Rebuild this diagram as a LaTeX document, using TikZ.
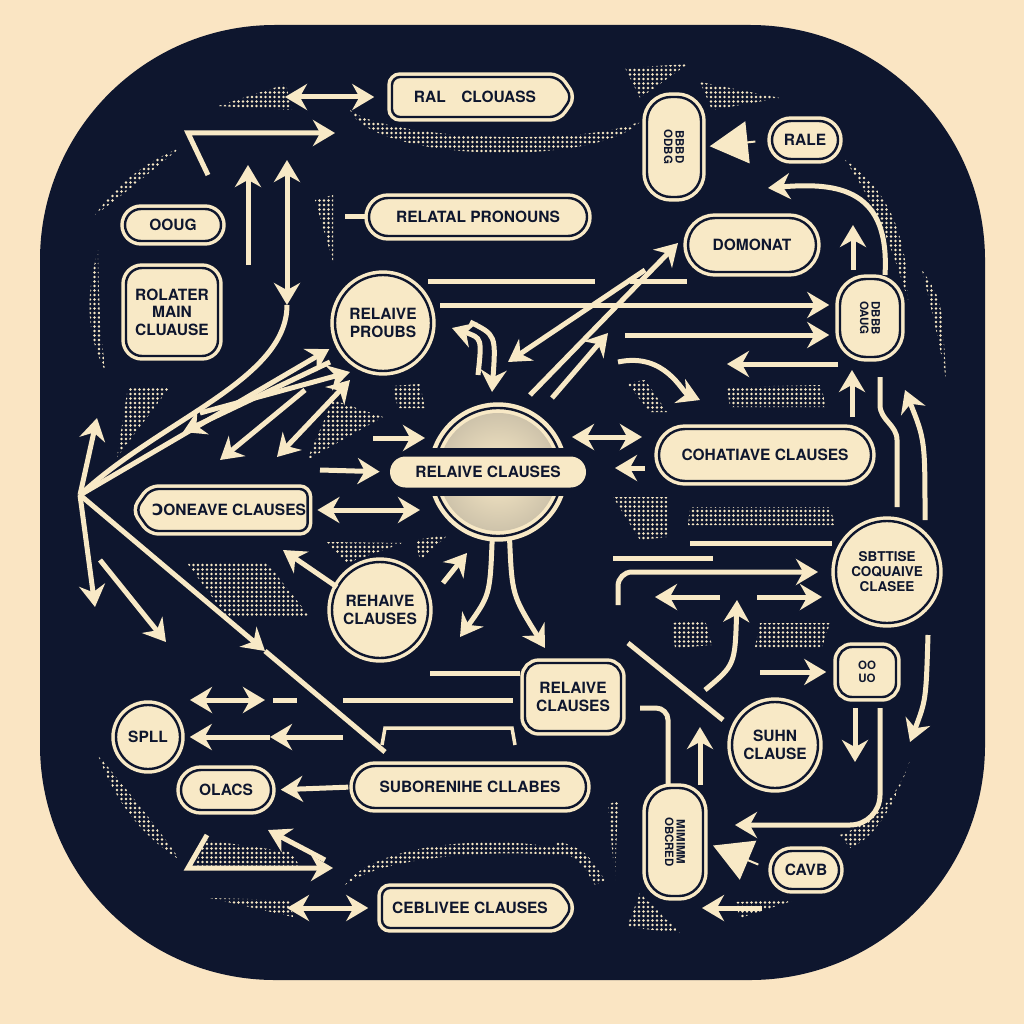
\documentclass[tikz,border=0pt]{standalone}
\usepackage{fontspec}
\setmainfont{TeX Gyre Heros}
\newfontfamily\oddfont{DejaVu Sans}
\usetikzlibrary{arrows.meta,shapes.misc,shapes.symbols,patterns.meta}

\definecolor{paper}{RGB}{250,229,195}
\definecolor{ink}{RGB}{14,22,46}
\definecolor{cream}{RGB}{248,233,198}

\tikzset{every picture/.style={line width=0.75pt}}
\tikzset{
	card/.style={draw=cream, line width=3.5pt, double=ink, double distance=2.4pt, fill=cream, text=ink, font=\bfseries\fontsize{15.5}{17.5}\selectfont, align=center, inner sep=0pt},
	pill/.style={card, rounded rectangle},
	box/.style={card, rectangle, rounded corners=#1},
	box/.default=16pt,
	bubble/.style={card, circle},
	flag/.style={card, signal, signal to=#1, signal pointer angle=110, rounded corners=8pt},
	glyphs/.style={font=\bfseries\fontsize{11.5}{12.5}\selectfont},
	flow/.style={draw=cream, line width=5pt, -{Stealth[length=22pt,width=26pt]}},
	dflow/.style={draw=cream, line width=5pt, {Stealth[length=22pt,width=26pt]}-{Stealth[length=22pt,width=26pt]}},
	bar/.style={draw=cream, line width=5pt},
	pointer/.style={draw=cream, line width=2pt, -{Triangle[length=38pt,width=42pt]}},
	tone/.style={pattern={Dots[distance=4.5pt, radius=1.3pt]}, pattern color=cream}
}

\begin{document}
\begin{tikzpicture}[x=1pt,y=1pt,yscale=-1]
	% Draw paper and board
	\fill[paper] (0,0) rectangle (1024,1024);
	\useasboundingbox (0,0) rectangle (1024,1024);
	\fill[ink, rounded corners=235pt] (40,25) rectangle (985,980);

	% Draw halftone patches
	\fill[tone] (350,110) .. controls (372,162) and (600,168) .. (642,120) .. controls (598,146) and (392,142) .. (350,110) -- cycle;
	\fill[tone] (218,106) -- (286,84) -- (292,110) -- cycle;
	\fill[tone] (625,68) -- (688,64) -- (640,98) -- cycle;
	\fill[tone] (700,82) -- (780,98) -- (712,110) -- cycle;
	\fill[tone] (845,160) .. controls (890,190) and (908,240) .. (908,300) .. controls (893,250) and (876,205) .. (845,160) -- cycle;
	\fill[tone] (922,270) .. controls (942,300) .. (946,378) .. controls (934,320) .. (922,270) -- cycle;
	\fill[tone] (95,215) .. controls (120,180) and (150,160) .. (180,148) .. controls (150,172) and (122,196) .. (95,215) -- cycle;
	\fill[tone] (98,250) .. controls (84,300) and (88,340) .. (106,372) .. controls (99,330) and (99,290) .. (98,250) -- cycle;
	\fill[tone] (315,200) -- (333,195) -- (333,262) -- cycle;
	\fill[tone] (128,387) -- (170,387) -- (117,457) -- cycle;
	\fill[tone] (333,400) -- (383,417) -- (307,460) -- cycle;
	\fill[tone] (392,386) -- (420,384) -- (425,408) -- (398,408) -- cycle;
	\fill[tone] (187,563) -- (267,563) -- (310,617) -- (227,617) -- cycle;
	\fill[tone] (327,542) -- (403,543) -- (347,563) -- cycle;
	\fill[tone] (415,540) -- (448,535) -- (420,560) -- cycle;
	\fill[tone] (98,755) .. controls (115,800) and (140,835) .. (180,860) .. controls (158,828) and (132,796) .. (98,755) -- cycle;
	\fill[tone] (345,885) .. controls (380,835) and (545,832) .. (592,860) .. controls (540,848) and (392,850) .. (345,885) -- cycle;
	\fill[tone] (210,898) -- (290,900) -- (293,917) -- cycle;
	\fill[tone] (205,840) -- (290,852) -- (300,866) -- (195,866) -- cycle;
	\fill[tone] (627,383) -- (645,380) -- (667,412) -- (650,412) -- cycle;
	\fill[tone] (727,387) -- (820,385) -- (827,407) -- (730,407) -- cycle;
	\fill[tone] (613,497) -- (667,497) -- (667,537) -- (640,540) -- cycle;
	\fill[tone] (690,507) -- (830,507) -- (835,525) -- (688,525) -- cycle;
	\fill[tone] (672,623) -- (705,620) -- (712,645) -- (675,648) -- cycle;
	\fill[tone] (760,623) -- (830,623) -- (822,647) -- (755,647) -- cycle;
	\fill[tone] (840,835) .. controls (880,820) and (900,790) .. (910,760) .. controls (895,805) and (875,838) .. (850,848) -- cycle;
	\fill[tone] (555,840) .. controls (585,850) .. (605,880) -- (595,885) .. controls (580,860) .. (555,848) -- cycle;
	\fill[tone] (608,805) -- (618,800) -- (615,880) -- cycle;
	\fill[tone] (627,927) -- (680,933) -- (640,893) -- cycle;
	\fill[tone] (735,902) -- (795,900) -- (740,918) -- cycle;

	% Draw labelled nodes
	\node[flag=east, minimum width=180pt, minimum height=40pt] (ral) at (475,97) {RAL\quad CLOUASS};
	\node[pill, minimum width=218pt, minimum height=38pt] (pron) at (478,217) {RELATAL PRONOUNS};
	\node[pill, minimum width=96pt, minimum height=32pt] (oug) at (173,225) {OOUG};
	\node[box, minimum width=92pt, minimum height=88pt] (mainc) at (172,312) {ROLATER\\MAIN\\CLUAUSE};
	\node[bubble, minimum size=96pt] (proubs) at (383,323) {RELAIVE\\PROUBS};
	\node[box=24pt, minimum width=54pt, minimum height=100pt, glyphs] (hexT) at (674,147) {\rotatebox{-90}{\shortstack{BBBD\\ODBG}}};
	\node[pill, minimum width=66pt, minimum height=38pt] (rale) at (805,140) {RALE};
	\node[pill, minimum width=128pt, minimum height=54pt] (domonat) at (752,245) {DOMONAT};
	\node[box=26pt, minimum width=60pt, minimum height=78pt, glyphs] (vpill) at (870,318) {\rotatebox{-90}{\shortstack{DBBB\\OAUG}}};
	\node[flag=west, minimum width=172pt, minimum height=42pt] (oneave) at (229,510) {{\oddfont\bfseries Ɔ}ONEAVE CLAUSES};
	\node[pill, minimum width=212pt, minimum height=52pt] (cohat) at (765,455) {COHATIAVE CLAUSES};
	\node[bubble, minimum size=102pt, font=\bfseries\fontsize{13.5}{15}\selectfont] (sbttise) at (887,572) {SBTTISE\\COQUAIVE\\CLASEE};
	\node[bubble, minimum size=96pt] (rehaive) at (380,610) {REHAIVE\\CLAUSES};
	\node[box=14pt, minimum width=96pt, minimum height=68pt] (relaive) at (573,697) {RELAIVE\\CLAUSES};
	\node[bubble, minimum size=86pt] (suhn) at (775,745) {SUHN\\CLAUSE};
	\node[box=14pt, minimum width=58pt, minimum height=50pt, glyphs] (eight) at (867,672) {OO\\UO};
	\node[bubble, minimum size=64pt] (spll) at (148,737) {SPLL};
	\node[pill, minimum width=90pt, minimum height=40pt] (olacs) at (226,790) {OLACS};
	\node[pill, minimum width=232pt, minimum height=42pt] (subor) at (470,787) {SUBORENIHE CLLABES};
	\node[box=24pt, minimum width=56pt, minimum height=108pt, glyphs] (hexB) at (675,842) {\rotatebox{-90}{\shortstack{MIMIMM\\OBCRED}}};
	\node[pill, minimum width=66pt, minimum height=38pt] (cavb) at (806,870) {CAVB};
	\node[flag=east, minimum width=190pt, minimum height=40pt] (cebliv) at (470,908) {CEBLIVEE CLAUSES};

	% Draw the central disc
	\node[bubble, line width=4.5pt, minimum size=128pt] (core) at (498,472) {};
	\shade[inner color=cream, outer color=ink!18!cream] (core.center) circle[radius=59];
	\fill[ink] (425,448) rectangle (575,496);
	\node[fill=cream, rounded rectangle, minimum width=196pt, minimum height=31pt, inner sep=0pt, text=ink, font=\bfseries\fontsize{15.5}{17.5}\selectfont] (coreTag) at (488,472) {RELAIVE CLAUSES};

	% Free ends of connectors
	\coordinate (hub) at (80,495);
	\coordinate (hubN) at (97,418);
	\coordinate (hubS) at (95,607);
	\coordinate (hubM) at (265,651);
	\coordinate (hubE) at (385,752);
	\coordinate (tl1) at (285,97);
	\coordinate (g1) at (208,175);
	\coordinate (g2) at (188,133);
	\coordinate (g3) at (335,133);
	\coordinate (u1) at (248,265);
	\coordinate (u2) at (248,165);
	\coordinate (v1) at (287,160);
	\coordinate (v2) at (287,305);
	\coordinate (ps) at (345,217);
	\coordinate (h1a) at (428,281);
	\coordinate (h1b) at (595,281);
	\coordinate (h2a) at (630,281);
	\coordinate (h2b) at (687,281);
	\coordinate (h3a) at (440,305);
	\coordinate (h4a) at (625,335);
	\coordinate (h5a) at (838,364);
	\coordinate (h5b) at (727,364);
	\coordinate (d1) at (530,395);
	\coordinate (d2) at (678,243);
	\coordinate (d3) at (645,270);
	\coordinate (d4) at (508,362);
	\coordinate (d5) at (552,398);
	\coordinate (d6) at (608,333);
	\coordinate (pc1) at (478,375);
	\coordinate (pc2) at (452,328);
	\coordinate (pc3) at (470,322);
	\coordinate (pc4) at (492,392);
	\coordinate (la1) at (200,413);
	\coordinate (la2) at (350,372);
	\coordinate (la3) at (305,390);
	\coordinate (la4) at (220,460);
	\coordinate (la5) at (277,457);
	\coordinate (la6) at (350,380);
	\coordinate (la7) at (330,362);
	\coordinate (la8) at (183,432);
	\coordinate (la9) at (100,560);
	\coordinate (la10) at (166,642);
	\coordinate (ma1) at (373,438);
	\coordinate (ma2) at (425,438);
	\coordinate (ma3) at (320,470);
	\coordinate (ma6) at (420,510);
	\coordinate (ma7) at (337,587);
	\coordinate (ma8) at (283,550);
	\coordinate (ma9) at (443,583);
	\coordinate (ma10) at (467,553);
	\coordinate (cb1) at (460,637);
	\coordinate (cb2) at (545,648);
	\coordinate (mr1) at (572,437);
	\coordinate (mr2) at (642,437);
	\coordinate (mr3) at (615,468);
	\coordinate (mr4) at (645,468);
	\coordinate (w1) at (618,362);
	\coordinate (w2) at (700,400);
	\coordinate (b1) at (690,543);
	\coordinate (b2) at (832,543);
	\coordinate (b3) at (613,558);
	\coordinate (b4) at (713,558);
	\coordinate (k1) at (618,605);
	\coordinate (k2) at (618,572);
	\coordinate (k4) at (818,572);
	\coordinate (k5) at (757,597);
	\coordinate (k6) at (822,597);
	\coordinate (k7) at (720,597);
	\coordinate (k8) at (655,597);
	\coordinate (k9) at (705,690);
	\coordinate (k10) at (737,600);
	\coordinate (k11) at (628,643);
	\coordinate (k12) at (723,720);
	\coordinate (r1) at (853,270);
	\coordinate (r2) at (853,225);
	\coordinate (r3) at (885,275);
	\coordinate (r4) at (768,188);
	\coordinate (r5) at (852,417);
	\coordinate (r6) at (852,370);
	\coordinate (r7) at (880,377);
	\coordinate (r8) at (880,405);
	\coordinate (r9) at (897,440);
	\coordinate (r10) at (897,507);
	\coordinate (r11) at (925,520);
	\coordinate (r12) at (905,390);
	\coordinate (r13) at (928,635);
	\coordinate (r14) at (910,742);
	\coordinate (r15) at (760,672);
	\coordinate (r16) at (855,708);
	\coordinate (r17) at (855,762);
	\coordinate (r18) at (880,708);
	\coordinate (r19) at (880,825);
	\coordinate (r21) at (735,825);
	\coordinate (bt1) at (762,908);
	\coordinate (bt2) at (702,908);
	\coordinate (e1) at (668,785);
	\coordinate (e2) at (668,708);
	\coordinate (e3) at (640,708);
	\coordinate (e4) at (700,785);
	\coordinate (e5) at (700,727);
	\coordinate (lb1) at (190,700);
	\coordinate (lb2) at (265,700);
	\coordinate (lb3) at (273,700);
	\coordinate (lb4) at (297,700);
	\coordinate (lb5) at (343,700);
	\coordinate (lb6) at (513,700);
	\coordinate (lb7) at (430,673);
	\coordinate (lb8) at (520,673);
	\coordinate (lb9) at (343,737);
	\coordinate (lb10) at (270,737);
	\coordinate (lb11) at (382,745);
	\coordinate (lb12) at (385,728);
	\coordinate (lb13) at (512,728);
	\coordinate (lb14) at (515,745);
	\coordinate (lb15) at (207,835);
	\coordinate (lb16) at (188,868);
	\coordinate (lb17) at (333,868);
	\coordinate (lb18) at (325,860);
	\coordinate (lb19) at (268,830);
	\coordinate (lb20) at (287,908);

	% Draw connectors, upper left
	\draw[dflow, shorten >=16pt] (tl1) -- (ral.west);
	\draw[flow] (g1) -- (g2) -- (g3);
	\draw[flow] (u1) -- (u2);
	\draw[dflow] (v1) -- (v2);
	\draw[bar] (v2) .. controls (287,380) and (160,420) .. (hub);
	\draw[bar] (ps) -- (pron.west);
	\draw[flow] (hub) -- (hubN);
	\draw[flow] (hub) -- (hubS);
	\draw[flow] (hub) -- (hubM);
	\draw[bar] (hubM) -- (hubE);
	\draw[flow, shorten >=10pt] (hub) -- (proubs.205);
	\draw[flow] (la1) -- (la2);
	\draw[flow] (la3) -- (la4);
	\draw[dflow] (la5) -- (la6);
	\draw[flow] (la7) -- (la8);
	\draw[flow] (la9) -- (la10);

	% Draw connectors, upper right
	\draw[bar] (h1a) -- (h1b);
	\draw[bar] (h2a) -- (h2b);
	\draw[flow, shorten >=9pt] (h3a) -- (h3a -| vpill.west);
	\draw[flow, shorten >=9pt] (h4a) -- (h4a -| vpill.west);
	\draw[flow] (h5a) -- (h5b);
	\draw[flow] (d1) -- (d2);
	\draw[flow] (d3) -- (d4);
	\draw[flow] (d5) -- (d6);
	\draw[flow] (pc1) .. controls (482,338) .. (pc2);
	\draw[flow] (pc3) .. controls (496,335) .. (pc4);
	\draw[pointer, shorten <=15pt, shorten >=7pt] (rale.west) -- (hexT.east);
	\draw[flow] (r1) -- (r2);
	\draw[flow] (r3) .. controls (890,190) and (840,182) .. (r4);
	\draw[flow] (r5) -- (r6);
	\draw[bar] (r7) -- (r8) .. controls (880,420) and (897,425) .. (r9) -- (r10);
	\draw[flow] (r11) .. controls (925,440) .. (r12);

	% Draw connectors round the centre
	\draw[flow] (ma1) -- (ma2);
	\draw[flow, shorten >=10pt] (ma3) -- (coreTag.west);
	\draw[dflow, shorten <=8pt] (oneave.east) -- (ma6);
	\draw[flow] (ma7) -- (ma8);
	\draw[flow] (ma9) -- (ma10);
	\draw[flow] (core.-95) .. controls (490,595) .. (cb1);
	\draw[flow] (core.-80) .. controls (512,595) .. (cb2);
	\draw[dflow] (mr1) -- (mr2);
	\draw[flow] (mr4) -- (mr3);
	\draw[flow] (w1) .. controls (665,352) and (682,392) .. (w2);
	\draw[bar] (b1) -- (b2);
	\draw[bar] (b3) -- (b4);
	\draw[flow, rounded corners=14pt] (k1) -- (k2) -- (k4);
	\draw[flow] (k5) -- (k6);
	\draw[flow] (k7) -- (k8);
	\draw[flow] (k9) .. controls (735,665) .. (k10);
	\draw[bar] (k11) -- (k12);

	% Draw connectors, lower right
	\draw[flow, shorten >=10pt] (r15) -- (eight.west);
	\draw[flow] (r16) -- (r17);
	\draw[flow, rounded corners=30pt] (r18) -- (r19) -- (r21);
	\draw[flow] (r13) .. controls (926,700) .. (r14);
	\draw[pointer, shorten <=14pt, shorten >=9pt] (cavb.west) -- (hexB.east);
	\draw[flow] (bt1) -- (bt2);
	\draw[bar, rounded corners=12pt] (e1) -- (e2) -- (e3);
	\draw[flow] (e4) -- (e5);

	% Draw connectors, lower left
	\draw[dflow] (lb1) -- (lb2);
	\draw[bar] (lb3) -- (lb4);
	\draw[bar] (lb5) -- (lb6);
	\draw[bar] (lb7) -- (lb8);
	\draw[flow] (lb9) -- (lb10);
	\draw[flow, shorten >=8pt] (lb10) -- (spll.east);
	\draw[bar, line width=3.5pt] (lb11) -- (lb12) -- (lb13) -- (lb14);
	\draw[flow, shorten <=4pt, shorten >=8pt] (subor.west) -- (olacs.east);
	\draw[flow] (lb15) -- (lb16) -- (lb17);
	\draw[flow] (lb18) -- (lb19);
	\draw[dflow, shorten >=12pt] (lb20) -- (cebliv.west);
\end{tikzpicture}
\end{document}
